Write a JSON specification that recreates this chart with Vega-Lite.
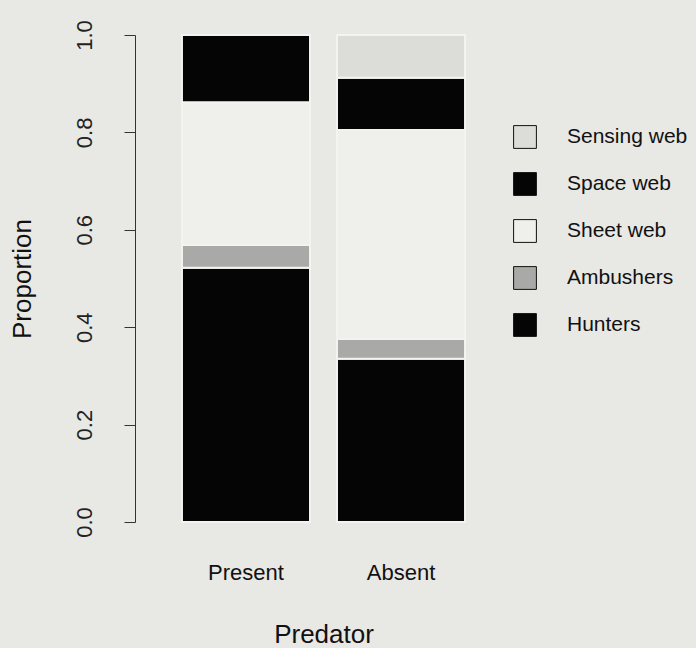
{
  "$schema": "https://vega.github.io/schema/vega-lite/v6.json",
  "autosize": "none",
  "width": 377,
  "height": 487,
  "padding": {"left": 135, "top": 35, "right": 184, "bottom": 126},
  "background": "#e8e8e4",
  "config": {
    "view": {"stroke": null},
    "font": "Liberation Sans"
  },
  "data": {
    "values": [
      {"Predator": "Present", "Guild": "Hunters", "rank": 1, "Proportion": 0.522},
      {"Predator": "Present", "Guild": "Ambushers", "rank": 2, "Proportion": 0.047},
      {"Predator": "Present", "Guild": "Sheet web", "rank": 3, "Proportion": 0.293},
      {"Predator": "Present", "Guild": "Space web", "rank": 4, "Proportion": 0.138},
      {"Predator": "Present", "Guild": "Sensing web", "rank": 5, "Proportion": 0.0},
      {"Predator": "Absent", "Guild": "Hunters", "rank": 1, "Proportion": 0.335},
      {"Predator": "Absent", "Guild": "Ambushers", "rank": 2, "Proportion": 0.041},
      {"Predator": "Absent", "Guild": "Sheet web", "rank": 3, "Proportion": 0.429},
      {"Predator": "Absent", "Guild": "Space web", "rank": 4, "Proportion": 0.107},
      {"Predator": "Absent", "Guild": "Sensing web", "rank": 5, "Proportion": 0.088}
    ]
  },
  "mark": {"type": "bar", "stroke": "#f3f3ef", "strokeWidth": 2},
  "encoding": {
    "x": {
      "field": "Predator",
      "type": "nominal",
      "sort": ["Present", "Absent"],
      "scale": {"paddingInner": 0.174, "paddingOuter": 0.303},
      "axis": {
        "title": "Predator",
        "titleFontSize": 26,
        "titleFontWeight": "normal",
        "titleColor": "#111",
        "titlePadding": 38,
        "labelAngle": 0,
        "labelFontSize": 22,
        "labelColor": "#111",
        "labelPadding": 40,
        "domain": false,
        "ticks": false
      }
    },
    "y": {
      "field": "Proportion",
      "type": "quantitative",
      "stack": "zero",
      "scale": {"domain": [0, 1], "nice": false, "zero": true},
      "axis": {
        "title": "Proportion",
        "titleFontSize": 26,
        "titleFontWeight": "normal",
        "titleColor": "#111",
        "titlePadding": 38,
        "values": [0, 0.2, 0.4, 0.6, 0.8, 1.0],
        "format": ".1f",
        "labelAngle": -90,
        "labelAlign": "center",
        "labelBaseline": "bottom",
        "labelFontSize": 22,
        "labelColor": "#222",
        "labelPadding": 28,
        "tickSize": 11,
        "tickColor": "#333",
        "domainColor": "#333",
        "grid": false
      }
    },
    "color": {
      "field": "Guild",
      "type": "nominal",
      "scale": {
        "domain": ["Sensing web", "Space web", "Sheet web", "Ambushers", "Hunters"],
        "range": ["#dcdcd8", "#050505", "#efefeb", "#a9a9a7", "#050505"]
      },
      "legend": {
        "title": null,
        "orient": "none",
        "legendX": 378,
        "legendY": 90,
        "padding": 0,
        "symbolType": "square",
        "symbolSize": 520,
        "symbolStrokeColor": "#111",
        "symbolStrokeWidth": 1,
        "symbolFillColor": "#ffffff",
        "labelFontSize": 21,
        "labelColor": "#111",
        "labelOffset": 30,
        "rowPadding": 19,
        "labelLimit": 300
      }
    },
    "order": {"field": "rank", "type": "quantitative"}
  }
}
